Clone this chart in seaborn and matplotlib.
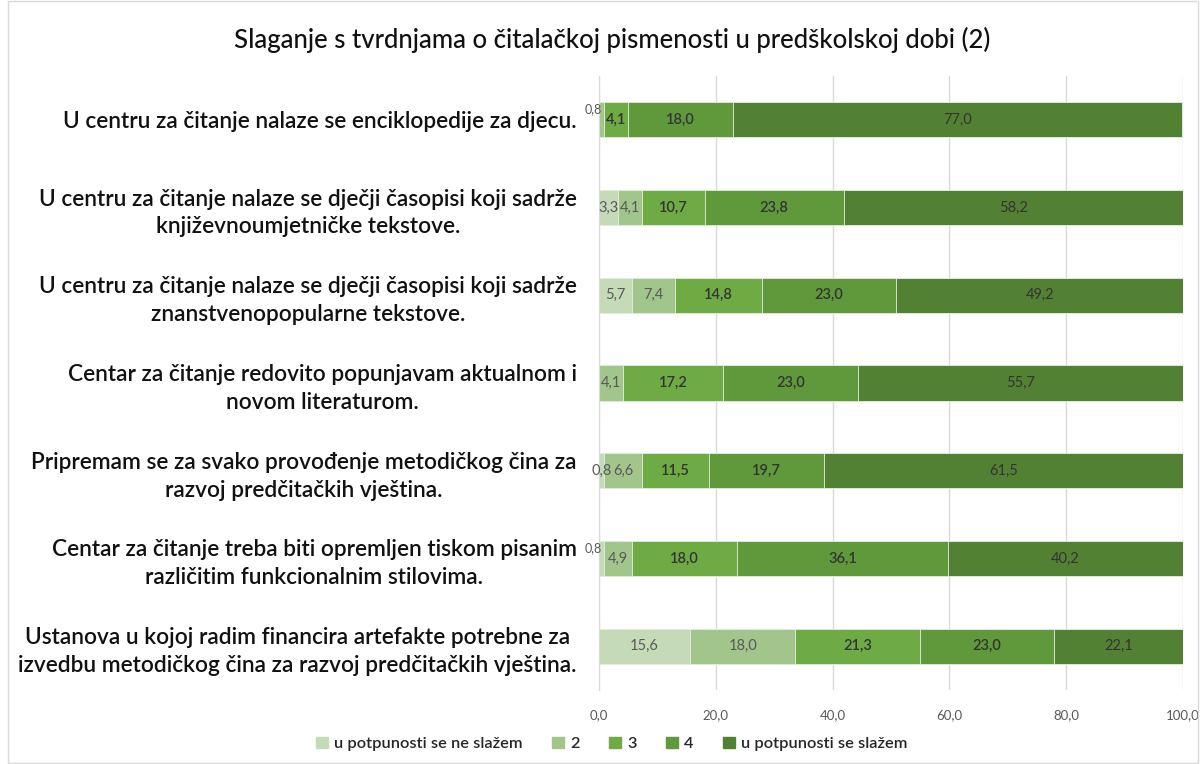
import numpy as np
import pandas as pd
import matplotlib
matplotlib.use('Agg')
import matplotlib.pyplot as plt
import matplotlib.patches as mpatches
import seaborn as sns

# Data
statements = [
    'U centru za čitanje nalaze se enciklopedije za djecu.',
    'U centru za čitanje nalaze se dječji časopisi koji sadrže\nknjiževnoumjetničke tekstove.',
    'U centru za čitanje nalaze se dječji časopisi koji sadrže\nznanstvenopopularne tekstove.',
    'Centar za čitanje redovito popunjavam aktualnom i\nnovom literaturom.',
    'Pripremam se za svako provođenje metodičkog čina za\nrazvoj predčitačkih vještina.',
    'Centar za čitanje treba biti opremljen tiskom pisanim\nrazličitim funkcionalnim stilovima.',
    'Ustanova u kojoj radim financira artefakte potrebne za\nizvedbu metodičkog čina za razvoj predčitačkih vještina.',
]
levels = ['u potpunosti se ne slažem', '2', '3', '4', 'u potpunosti se slažem']
s1 = [0.0, 3.3, 5.7, 0.0, 0.8, 0.8, 15.6]
s2 = [0.8, 4.1, 7.4, 4.1, 6.6, 4.9, 18.0]
s3 = [4.1, 10.7, 14.8, 17.2, 11.5, 18.0, 21.3]
s4 = [18.0, 23.8, 23.0, 23.0, 19.7, 36.1, 23.0]
s5 = [77.0, 58.2, 49.2, 55.7, 61.5, 40.2, 22.1]
xticks = [0, 20, 40, 60, 80, 100]

colors = ['#c5dbb8', '#a2c58c', '#6eab45', '#5f993b', '#538134']

df = pd.DataFrame({'statement': statements, levels[0]: s1, levels[1]: s2,
                   levels[2]: s3, levels[3]: s4, levels[4]: s5})
cum = df[levels].cumsum(axis=1)
cum['statement'] = df['statement']

sns.set_style('white')
plt.rcParams['font.family'] = ['Lato', 'DejaVu Sans']

fig = plt.figure(figsize=(12.02, 7.64), dpi=100)
ax = fig.add_axes([0.4983, 0.0969, 0.4859, 0.8036])

# stacked bars: draw cumulative totals from the last level backwards
for lvl, col in reversed(list(zip(levels, colors))):
    sns.barplot(data=cum, x=lvl, y='statement', orient='h', color=col,
                width=0.40, edgecolor='#e8efe3', linewidth=0.6, ax=ax,
                saturation=1)

# value labels
for i in range(len(statements)):
    left = 0.0
    for j, lvl in enumerate(levels):
        v = df[lvl].iloc[i]
        if v > 0:
            txt = f'{v:.1f}'.replace('.', ',')
            tcol = '#595959' if j < 2 else '#333333'
            if v < 1 and i in (0, 5):
                ax.text(left + v - 0.3, i - 0.12, txt, ha='right', va='center',
                        fontsize=9, color='#595959')
            else:
                ax.text(left + v / 2, i, txt, ha='center', va='center',
                        fontsize=10.5, color=tcol,
                        fontweight='semibold' if j in (2, 3) else 'normal')
        left += v

ax.set_xlim(0, 100)
ax.set_ylim(6.5, -0.5)
ax.set_xticks(xticks)
ax.set_xticklabels([f'{t:.1f}'.replace('.', ',') for t in xticks],
                   fontsize=9.5, color='#595959')
ax.tick_params(axis='x', length=0, pad=14)
ax.tick_params(axis='y', length=0, pad=16)
ax.set_yticks(range(len(statements)))
ax.set_yticklabels(statements, fontsize=16.3, color='#111111', fontweight='semibold',
                   multialignment='center', linespacing=1.4)
ax.set_xlabel('')
ax.set_ylabel('')
ax.grid(axis='x', color='#d9d9d9', linewidth=1)
ax.set_axisbelow(True)
for side in ['top', 'right', 'bottom']:
    ax.spines[side].set_visible(False)
ax.spines['left'].set_color('#d9d9d9')
if ax.get_legend():
    ax.get_legend().remove()

fig.suptitle('Slaganje s tvrdnjama o čitalačkoj pismenosti u predškolskoj dobi (2)',
             x=0.509, y=0.965, fontsize=18.5, color='#111111', fontweight='medium')

handles = [mpatches.Patch(color=c, label=l) for l, c in zip(levels, colors)]
leg = fig.legend(handles=handles, loc='center', bbox_to_anchor=(0.509, 0.026), ncol=5,
                 frameon=False, fontsize=11.8, handlelength=0.7, handleheight=0.7,
                 handletextpad=0.4, columnspacing=1.8)
for t in leg.get_texts():
    t.set_fontweight('semibold')

# chart border
fig.patches.append(mpatches.Rectangle((0.007, 0.001), 0.99, 0.998, transform=fig.transFigure,
                                      fill=False, edgecolor='#d9d9d9', linewidth=1))

fig.savefig('out.png', dpi=100)
